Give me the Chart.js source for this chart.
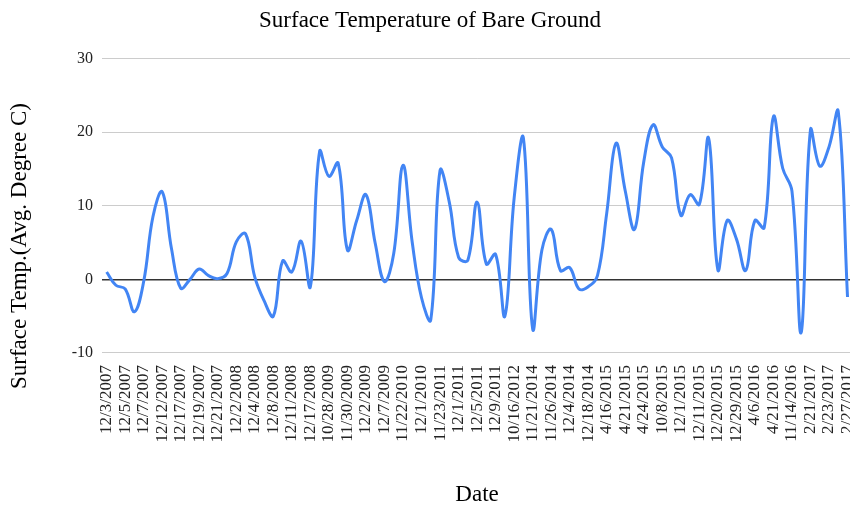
<!DOCTYPE html>
<html>
<head>
<meta charset="utf-8">
<script src="https://cdn.jsdelivr.net/npm/chart.js@4/dist/chart.umd.min.js"></script>
<style>
  html, body { margin: 0; padding: 0; background: #fff; overflow: hidden; }
  #wrap { width: 872px; height: 510px; }
</style>
</head>
<body>
<div id="wrap"><canvas id="chart"></canvas></div>
<script>
// dates shown on the axis (every other reading)
const shownDates = [
  "12/3/2007", "12/5/2007", "12/7/2007", "12/12/2007", "12/17/2007", "12/19/2007",
  "12/21/2007", "12/2/2008", "12/4/2008", "12/8/2008", "12/11/2008", "12/17/2008",
  "10/28/2009", "11/30/2009", "12/2/2009", "12/7/2009", "11/22/2010", "12/1/2010",
  "11/23/2011", "12/1/2011", "12/5/2011", "12/9/2011", "10/16/2012", "11/21/2014",
  "11/26/2014", "12/4/2014", "12/18/2014", "4/16/2015", "4/21/2015", "4/24/2015",
  "10/8/2015", "12/1/2015", "12/11/2015", "12/20/2015", "12/29/2015", "4/6/2016",
  "4/21/2016", "11/14/2016", "2/21/2017", "2/23/2017", "2/27/2017"
]

// avg surface temperature (deg C), one per reading
const surfaceTemp = [
  1.0, -0.8, -1.3, -4.4, -0.3, 8.5, 11.9, 4.2, -1.2, 0.0,
  1.4, 0.5, 0.1, 0.8, 5.1, 6.2, 0.3, -2.9, -5.0, 2.5,
  1.0, 5.2, -1.0, 17.4, 14.0, 15.8, 4.0, 8.0, 11.5, 4.9,
  -0.3, 3.5, 15.5, 5.0, -2.5, -5.5, 14.8, 10.5, 3.0, 2.6,
  10.5, 2.1, 3.4, -5.0, 11.0, 19.2, -6.7, 4.0, 6.8, 1.2,
  1.6, -1.3, -1.0, 0.5, 9.0, 18.5, 12.0, 6.8, 16.0, 21.0,
  18.0, 16.5, 8.7, 11.5, 10.2, 19.2, 1.3, 8.0, 5.5, 1.2,
  8.0, 7.0, 22.1, 15.1, 12.0, -7.2, 20.3, 15.4, 18.0, 22.8,
  -2.4
]

const yTicks = [-10, 0, 10, 20, 30]

// readings in between the shown dates get a blank label
const labels = surfaceTemp.map((_, i) => (i % 2 === 0 ? shownDates[i / 2] : ""))

const serif = "'Liberation Serif', 'DejaVu Serif', serif"

// y title sits lower than chart.js would centre it, so draw it by hand
const sideTitle = {
  id: "sideTitle",
  afterDraw(chart) {
    const { ctx } = chart
    ctx.save()
    ctx.translate(20, 246)
    ctx.rotate(-Math.PI / 2)
    ctx.font = "23px " + serif
    ctx.fillStyle = "#000"
    ctx.textAlign = "center"
    ctx.textBaseline = "middle"
    ctx.fillText("Surface Temp.(Avg. Degree C)", 0, 0)
    ctx.restore()
  }
}

new Chart(document.getElementById("chart"), {
  type: "line",
  data: {
    labels,
    datasets: [{
      data: surfaceTemp,
      borderColor: "#4285f4",
      borderWidth: 3,
      pointRadius: 0,
      tension: 0.4,
      fill: false
    }]
  },
  options: {
    responsive: true, maintainAspectRatio: false, animation: false,
    layout: { padding: { left: 0, right: 12, top: 4, bottom: 0 } },
    plugins: {
      legend: { display: false },
      tooltip: { enabled: false },
      title: {
        display: true, text: "Surface Temperature of Bare Ground",
        color: "#000", font: { family: serif, size: 23, weight: "normal" },
        padding: { top: 3, bottom: 24 }
      }
    },
    scales: {
      x: {
        offset: true,
        grid: { display: false },
        border: { display: false },
        ticks: {
          autoSkip: false, minRotation: 90, maxRotation: 90,
          color: "#222", font: { family: serif, size: 17 }, padding: 4
        },
        title: {
          display: true, text: "Date", color: "#000",
          font: { family: serif, size: 23 }, padding: { top: 35, bottom: 1 }
        }
      },
      y: {
        min: -10, max: 30,
        afterBuildTicks: axis => { axis.ticks = yTicks.map(v => ({ value: v })) },
        afterFit: axis => { axis.width = 102 },
        grid: {
          color: c => (c.tick && c.tick.value === 0 ? "#333" : "#cccccc"),
          lineWidth: c => (c.tick && c.tick.value === 0 ? 1.5 : 1),
          drawTicks: false
        },
        border: { display: false },
        ticks: { color: "#222", font: { family: serif, size: 16 }, padding: 9 }
      }
    }
  },
  plugins: [sideTitle]
})
</script>
</body>
</html>
